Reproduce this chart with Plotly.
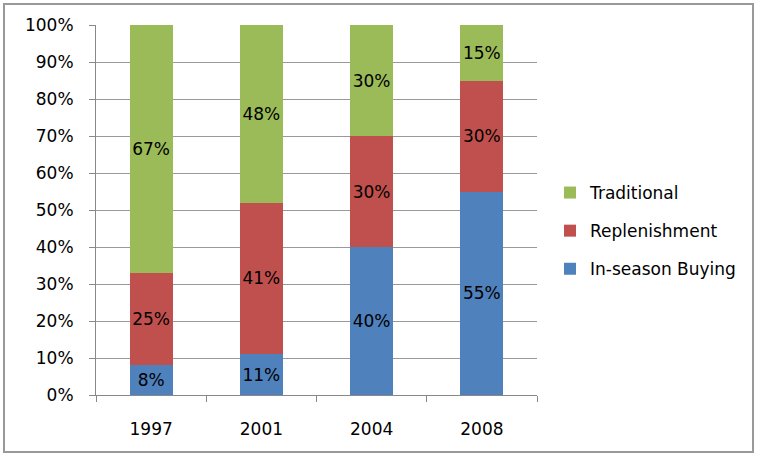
import plotly.graph_objects as go

years = ["1997", "2001", "2004", "2008"]
in_season = [8, 11, 40, 55]
replenishment = [25, 41, 30, 30]
traditional = [67, 48, 30, 15]
y_ticks = [0, 10, 20, 30, 40, 50, 60, 70, 80, 90, 100]
y_tick_labels = [f"{v}%" for v in y_ticks]

FONT = "DejaVu Sans"
series = [
    ("In-season Buying", in_season, "#4F81BD", 3),
    ("Replenishment", replenishment, "#C0504D", 2),
    ("Traditional", traditional, "#9BBB59", 1),
]

fig = go.Figure()
for name, vals, color, rank in series:
    fig.add_trace(go.Bar(
        name=name, x=years, y=vals,
        marker=dict(color=color, line=dict(width=0)),
        text=[f"{v}%" for v in vals],
        textposition="inside", insidetextanchor="middle",
        textangle=0, constraintext="none",
        textfont=dict(family=FONT, size=17, color="black"),
        legendgroup=name, legendrank=rank,
        hoverinfo="skip",
    ))

fig.update_layout(
    barmode="stack",
    bargap=0.61,
    width=762, height=456,
    margin=dict(l=96, r=225, t=25, b=61),
    paper_bgcolor="white", plot_bgcolor="white",
    font=dict(family=FONT, size=17, color="black"),
    showlegend=True,
    legend=dict(
        x=(550 - 96) / 441, y=(395 - 231) / 370, xanchor="left", yanchor="middle",
        traceorder="grouped", tracegroupgap=13,
        bgcolor="rgba(0,0,0,0)",
        font=dict(family=FONT, size=17, color="black"),
        itemwidth=30,
    ),
    xaxis=dict(
        type="category",
        showline=True, linecolor="#888888", linewidth=1,
        ticks="outside", tickson="boundaries", ticklen=6, tickcolor="#888888",
        showgrid=False,
        ticklabelstandoff=19,
        tickfont=dict(family=FONT, size=17),
    ),
    yaxis=dict(
        range=[0, 100],
        tickvals=y_ticks, ticktext=y_tick_labels,
        showline=True, linecolor="#888888", linewidth=1,
        ticks="outside", ticklen=6, tickcolor="#888888",
        showgrid=True, gridcolor="#999999", gridwidth=1,
        zeroline=False,
        ticklabelstandoff=12,
        tickfont=dict(family=FONT, size=17),
    ),
    shapes=[dict(
        type="rect", xref="paper", yref="paper",
        x0=(4 - 96) / 441, x1=(753 - 96) / 441,
        y0=(395 - 452) / 370, y1=(395 - 4) / 370,
        line=dict(color="#999999", width=2), fillcolor="rgba(0,0,0,0)",
        layer="below",
    )],
)

fig.write_html("out.html")
